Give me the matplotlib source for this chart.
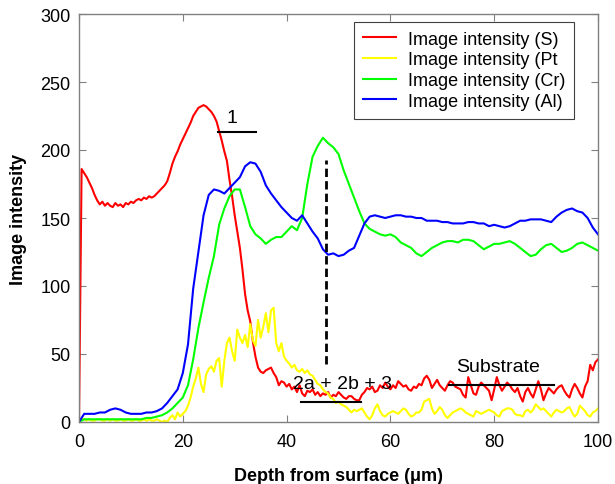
import numpy as np
import matplotlib
matplotlib.use("Agg")
import matplotlib.pyplot as plt

plt.rcParams['font.family'] = ['Liberation Sans', 'DejaVu Sans']

# Depth grids (micrometres)
depth_fine = np.arange(0, 100.01, 0.5)
depth_coarse = np.arange(0, 101, 1)

# Image intensity (S) - red
s_vals = [
    0, 186, 183, 180, 176, 172, 167, 163, 160, 162,
    159, 161, 159, 158, 161, 159, 160, 158, 161, 160,
    162, 161, 163, 164, 163, 165, 164, 166, 165, 166,
    168, 170, 172, 174, 177, 183, 190, 195, 199, 204,
    208, 212, 216, 220, 225, 228, 231, 232, 233, 232,
    230, 228, 225, 221, 214, 207, 199, 192, 178, 166,
    152, 140, 128, 112, 94, 82, 74, 59, 48, 40,
    37, 36, 38, 39, 40, 36, 33, 27, 30, 29,
    26, 28, 24, 26, 22, 27, 21, 19, 23, 22,
    24, 20, 22, 19, 21, 20, 22, 18, 20, 19,
    22, 20, 18, 17, 19, 19, 17, 16, 16, 20,
    22, 25, 24, 26, 22, 23, 27, 25, 29, 26,
    24, 27, 25, 30, 28, 26, 27, 24, 23, 26,
    25, 28, 27, 32, 34, 31, 25, 28, 31, 27,
    25, 23, 27, 30, 29, 26, 25, 24, 20, 18,
    33, 27, 21, 20, 26, 29, 27, 25, 23, 16,
    24, 33, 27, 23, 26, 29, 27, 24, 22, 25,
    19, 15, 22, 25, 21, 18, 24, 30, 24, 16,
    21, 25, 23, 21, 24, 26, 27, 23, 20, 18,
    24, 28, 25, 21, 18, 26, 30, 42, 38, 44,
    46,
]

# Image intensity (Pt) - yellow
pt_vals = [
    0, 2, 2, 1, 2, 1, 1, 2, 2, 1,
    1, 2, 1, 2, 1, 1, 2, 1, 1, 2,
    1, 1, 2, 1, 1, 2, 1, 2, 1, 1,
    2, 1, 0, 1, 0, 3, 5, 2, 7, 4,
    6, 8, 12, 18, 26, 32, 40, 28, 22, 35,
    39, 41, 37, 45, 47, 26, 45, 58, 62, 52,
    45, 68, 62, 58, 64, 55, 72, 60, 56, 75,
    62, 70, 80, 66, 82, 84, 58, 52, 58, 48,
    45, 43, 40, 42, 38, 37, 39, 36, 38, 35,
    34, 31, 28, 27, 24, 22, 21, 18, 17, 14,
    15, 13, 12, 11, 9, 7, 9, 8, 9, 10,
    7, 4, 2, 5, 10, 13, 8, 5, 4, 6,
    7, 8, 7, 6, 8, 10, 9, 6, 4, 5,
    7, 7, 9, 15, 16, 17, 10, 6, 8, 11,
    9, 5, 3, 5, 7, 8, 9, 10, 9, 7,
    6, 5, 4, 8, 7, 6, 7, 8, 9, 8,
    7, 5, 4, 8, 9, 10, 10, 9, 6, 5,
    5, 4, 8, 9, 7, 9, 13, 11, 9, 10,
    8, 6, 4, 7, 9, 8, 7, 8, 10, 11,
    7, 4, 6, 12, 10, 8, 5, 4, 7, 8,
    10,
]

# Image intensity (Cr) - green
cr_vals = [
    0, 2, 2, 2, 2, 2, 2, 2, 2, 2,
    2, 2, 2, 3, 3, 4, 5, 7, 10, 14,
    18, 27, 46, 69, 88, 106, 122, 145, 157, 166,
    171, 171, 158, 144, 138, 135, 131, 134, 136, 136,
    140, 144, 141, 150, 175, 195, 203, 209, 205, 202,
    197, 185, 175, 165, 155, 146, 142, 140, 138, 137,
    138, 136, 132, 130, 128, 124, 122, 125, 128, 130,
    132, 133, 133, 132, 134, 134, 133, 130, 127, 129,
    131, 131, 132, 133, 131, 128, 125, 122, 123, 127,
    130, 131, 128, 125, 126, 128, 131, 132, 130, 128,
    126,
]

# Image intensity (Al) - blue
al_vals = [
    0, 6, 6, 6, 7, 7, 9, 10, 9, 7,
    6, 6, 6, 7, 7, 8, 10, 14, 19, 24,
    36, 57, 98, 125, 152, 167, 171, 170, 168, 172,
    176, 180, 188, 191, 190, 184, 174, 168, 163, 158,
    154, 150, 148, 152, 146, 140, 135, 127, 123, 124,
    122, 123, 126, 128, 137, 146, 151, 152, 151, 150,
    151, 152, 152, 151, 151, 150, 150, 148, 148, 148,
    147, 147, 146, 146, 146, 147, 147, 146, 146, 144,
    145, 144, 143, 144, 146, 148, 148, 149, 149, 149,
    148, 147, 151, 154, 156, 157, 155, 154, 150, 143,
    138,
]

series_labels = ["Image intensity (S)", "Image intensity (Pt",
                 "Image intensity (Cr)", "Image intensity (Al)"]
series_colors = ["#ff0000", "#ffff00", "#00ff00", "#0000ff"]

x_ticks = [0, 20, 40, 60, 80, 100]
y_ticks = [0, 50, 100, 150, 200, 250, 300]

fig = plt.figure(figsize=(6.15, 4.85), dpi=100)
ax = fig.add_axes([79 / 615, 1 - 423 / 485, (598 - 79) / 615, (423 - 15) / 485])

lw = 1.5
ax.plot(depth_fine, s_vals, color=series_colors[0], lw=lw, label=series_labels[0])
ax.plot(depth_fine, pt_vals, color=series_colors[1], lw=lw, label=series_labels[1])
ax.plot(depth_coarse, cr_vals, color=series_colors[2], lw=lw, label=series_labels[2])
ax.plot(depth_coarse, al_vals, color=series_colors[3], lw=lw, label=series_labels[3])

# Annotations
ax.plot([26.8, 34.2], [213.5, 213.5], color='black', lw=1.5)
ax.text(29.4, 218, "1", fontsize=14, ha='center', va='bottom')
ax.plot([47.6, 47.6], [43, 193], color='black', lw=2, ls=(0, (3, 1.5)))
ax.plot([42.8, 54.4], [14.5, 14.5], color='black', lw=1.5)
ax.text(50.7, 28, "2a + 2b + 3", fontsize=14, ha='center', va='center')
ax.plot([71.3, 91.5], [27.4, 27.4], color='black', lw=1.5)
ax.text(80.7, 41, "Substrate", fontsize=14, ha='center', va='center')

ax.set_xlim(0, 100)
ax.set_ylim(0, 300)
ax.set_xticks(x_ticks)
ax.set_yticks(y_ticks)
ax.tick_params(direction='in', length=5, width=0.8, color='#808080',
               top=True, right=True, labelsize=13)
ax.tick_params(axis='x', pad=8)
ax.tick_params(axis='y', pad=6)
for sp in ax.spines.values():
    sp.set_color('#808080')
    sp.set_linewidth(1.0)

ax.set_xlabel("Depth from surface (\u03bcm)", fontsize=13, fontweight='bold', labelpad=12)
ax.set_ylabel("Image intensity", fontsize=13, fontweight='bold', labelpad=10)

leg = ax.legend(loc='upper right', bbox_to_anchor=(0.954, 0.981), borderaxespad=0,
                fontsize=13, fancybox=False, framealpha=1, edgecolor='#404040',
                handlelength=1.85, handletextpad=0.65, labelspacing=0.2,
                borderpad=0.5)
leg.get_frame().set_linewidth(0.8)

fig.savefig("out.png", dpi=100)
